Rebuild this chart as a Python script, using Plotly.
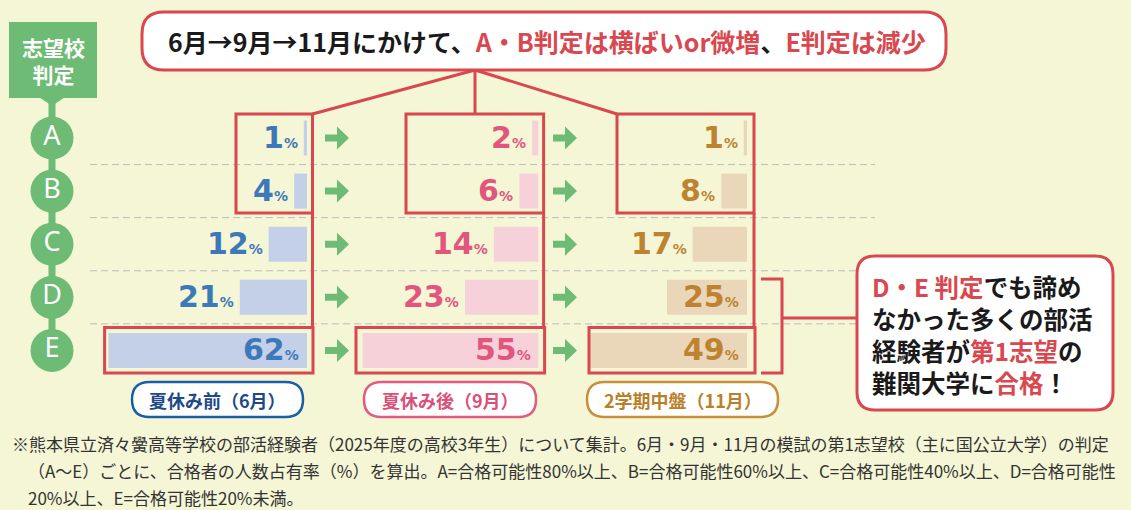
import plotly.graph_objects as go

W, H = 1131, 510
BG = "#f4f6d6"
RED = "#d9474f"
GREEN = "#6dbb74"
JP = "Noto Sans CJK JP"

# data
grades = ["A", "B", "C", "D", "E"]
june = [1, 4, 12, 21, 62]
sept = [2, 6, 14, 23, 55]
nov = [1, 8, 17, 25, 49]
period_labels = ["夏休み前（6月）", "夏休み後（9月）", "2学期中盤（11月）"]

# layout constants (pixels)
ROW0, STEP = 138.0, 53.1
SCALE = 3.2          # px per percent
CIRCLE_X = 52

panels = [
    dict(vals=june, right=307, bar="#c4cfe8", txt="#3d79b9", pill=(132, 303), pline="#1a5fa6", ptxt="#1e4a86"),
    dict(vals=sept, right=538.6, bar="#f7d1da", txt="#e2557c", pill=(364, 536), pline="#e25c80", ptxt="#d9507a"),
    dict(vals=nov, right=747, bar="#ead6b9", txt="#bd8330", pill=(587, 778), pline="#c8903c", ptxt="#b9802a"),
]


def rrect(x0, y0, x1, y1, r):
    return (f"M{x0+r},{y0} L{x1-r},{y0} Q{x1},{y0} {x1},{y0+r} L{x1},{y1-r} "
            f"Q{x1},{y1} {x1-r},{y1} L{x0+r},{y1} Q{x0},{y1} {x0},{y1-r} "
            f"L{x0},{y0+r} Q{x0},{y0} {x0+r},{y0} Z")


fig = go.Figure()
shapes = []
annots = []

# dummy trace so the pixel subplot exists
fig.add_trace(go.Scatter(x=[], y=[], xaxis="x", yaxis="y", showlegend=False))

for k, p in enumerate(panels):
    ax = f"x{k+2}"
    fig.add_trace(go.Bar(x=p["vals"], y=grades, orientation="h", xaxis=ax, yaxis="y2",
                         marker=dict(color=p["bar"], line=dict(width=0)), width=0.66,
                         showlegend=False, hoverinfo="skip"))
    fig.update_layout(**{f"xaxis{k+2}": dict(domain=[0, p["right"] / W], range=[p["right"] / SCALE, 0],
                                             visible=False, fixedrange=True, anchor="y2")})
    for g, v in zip(grades, p["vals"]):
        inside = v >= 25
        annots.append(dict(
            xref=ax, yref="y2", x=0 if inside else v, y=g, xanchor="right", yanchor="middle",
            xshift=-6 if inside else -4, yshift=1, showarrow=False,
            text=f"<b>{v}</b><span style='font-size:14px'><b>%</b></span>",
            font=dict(family="DejaVu Sans", size=30, color=p["txt"])))
    # period pill
    x0, x1 = p["pill"]
    shapes.append(dict(type="path", xref="x", yref="y", path=rrect(x0, 382, x1, 417, 17.5),
                       line=dict(color=p["pline"], width=2.5), fillcolor="white", layer="above"))
    annots.append(dict(xref="x", yref="y", x=(x0 + x1) / 2, y=400, showarrow=False,
                       text=period_labels[k], font=dict(family=JP, size=18, color=p["ptxt"], weight="bold")))

# dashed separators
for i in range(len(grades) - 1):
    y = ROW0 + (i + 0.5) * STEP
    shapes.append(dict(type="line", xref="x", yref="y", x0=90, x1=875, y0=y, y1=y,
                       line=dict(color="#bdbdbd", width=1, dash="7px,4px"), layer="below"))

# green arrows between panels
for ax0 in (325, 553):
    for i in range(len(grades)):
        y = ROW0 + i * STEP
        shapes.append(dict(type="path", xref="x", yref="y", line=dict(width=0), fillcolor=GREEN,
                           path=f"M{ax0},{y-3.5} L{ax0+12},{y-3.5} L{ax0+12},{y-11.5} L{ax0+24},{y} "
                                f"L{ax0+12},{y+11.5} L{ax0+12},{y+3.5} L{ax0},{y+3.5} Z"))

# left grade column
shapes.append(dict(type="line", xref="x", yref="y", x0=CIRCLE_X, x1=CIRCLE_X, y0=98, y1=ROW0 + 4 * STEP,
                   line=dict(color=GREEN, width=7), layer="below"))
shapes.append(dict(type="rect", xref="x", yref="y", x0=9, x1=97, y0=22, y1=98,
                   fillcolor=GREEN, line=dict(width=0), layer="below"))
shapes.append(dict(type="path", xref="x", yref="y", path="M39,97 L65,97 L52,106 Z",
                   fillcolor=GREEN, line=dict(width=0), layer="below"))
annots.append(dict(xref="x", yref="y", x=53, y=60, showarrow=False, text="志望校<br>判定",
                   font=dict(family=JP, size=21, color="white", weight="bold"), align="center"))
fig.add_trace(go.Scatter(x=[CIRCLE_X] * len(grades), y=grades, xaxis="x", yaxis="y2",
                         mode="markers+text", text=grades, textposition="middle center",
                         marker=dict(size=43, color=GREEN, line=dict(width=0)),
                         textfont=dict(family="Noto Sans", size=27, color="white"),
                         showlegend=False, hoverinfo="skip", cliponaxis=False))

# red outlines
box = dict(type="rect", xref="x", yref="y", line=dict(color=RED, width=3), fillcolor="rgba(0,0,0,0)")
ln = dict(type="line", xref="x", yref="y", line=dict(color=RED, width=3))
for (tx0, tx1), (ex0, ex1) in [((236, 312.5), (104.6, 313)),
                               ((406, 543.6), (356, 544.6)),
                               ((617, 754), (589, 755))]:
    shapes.append(dict(box, x0=tx0, x1=tx1, y0=114, y1=213))
    shapes.append(dict(ln, x0=tx1, x1=tx1, y0=213, y1=327.5))
    shapes.append(dict(box, x0=ex0, x1=ex1, y0=327.5, y1=373))

# title box + connectors
for tx, ty in [(312.5, 114), (475, 114), (617, 114)]:
    shapes.append(dict(ln, x0=475, y0=70, x1=tx, y1=ty))
shapes.append(dict(type="path", xref="x", yref="y", path=rrect(142, 12, 946, 70, 22),
                   line=dict(color=RED, width=3), fillcolor="white"))
annots.append(dict(xref="x", yref="y", x=547, y=41, showarrow=False,
                   text=("6月→9月→11月にかけて、"
                         f"<span style='color:{RED}'>A・B判定は横ばいor微増</span>、"
                         f"<span style='color:{RED}'>E判定は減少</span>"),
                   font=dict(family=JP, size=25, color="#1a1a1a", weight="bold")))

# bracket + callout
shapes.append(dict(type="path", xref="x", yref="y", path="M761,279 L782,279 L782,373 L761,373",
                   line=dict(color=RED, width=3)))
shapes.append(dict(ln, x0=782, x1=857, y0=318, y1=318))
shapes.append(dict(type="path", xref="x", yref="y", path=rrect(857, 256, 1113, 410, 18),
                   line=dict(color=RED, width=3), fillcolor="white"))
callout = [f"<span style='color:{RED}'>D・E 判定</span>でも諦め",
           "なかった多くの部活",
           f"経験者が<span style='color:{RED}'>第1志望</span>の",
           f"難関大学に<span style='color:{RED}'>合格</span>！"]
annots.append(dict(xref="x", yref="y", x=870, y=334, xanchor="left", yanchor="middle", align="left",
                   showarrow=False, text="<br>".join(callout),
                   font=dict(family=JP, size=24.5, color="#1a1a1a", weight="bold")))

# footnote
notes = ["※熊本県立済々黌高等学校の部活経験者（2025年度の高校3年生）について集計。6月・9月・11月の模試の第1志望校（主に国公立大学）の判定",
         "（A～E）ごとに、合格者の人数占有率（%）を算出。A=合格可能性80%以上、B=合格可能性60%以上、C=合格可能性40%以上、D=合格可能性",
         "20%以上、E=合格可能性20%未満。"]
for i, t in enumerate(notes):
    annots.append(dict(xref="x", yref="y", x=10 if i == 0 else 26, y=443 + i * 27, xanchor="left",
                       showarrow=False, text=t, font=dict(family=JP, size=17, color="#333333")))

fig.update_layout(
    width=W, height=H, margin=dict(l=0, r=0, t=0, b=0),
    paper_bgcolor=BG, plot_bgcolor="rgba(0,0,0,0)",
    xaxis=dict(domain=[0, 1], range=[0, W], visible=False, fixedrange=True),
    yaxis=dict(domain=[0, 1], range=[H, 0], visible=False, fixedrange=True),
    yaxis2=dict(domain=[0, 1], type="category", categoryarray=grades,
                range=[(H - ROW0) / STEP, -ROW0 / STEP], visible=False, fixedrange=True, anchor="x2"),
    barmode="overlay",
    shapes=shapes, annotations=annots, showlegend=False,
)

fig.write_html("out.html", config={"displayModeBar": False},
               post_script="document.body.style.margin='0';document.body.style.overflow='hidden';")
